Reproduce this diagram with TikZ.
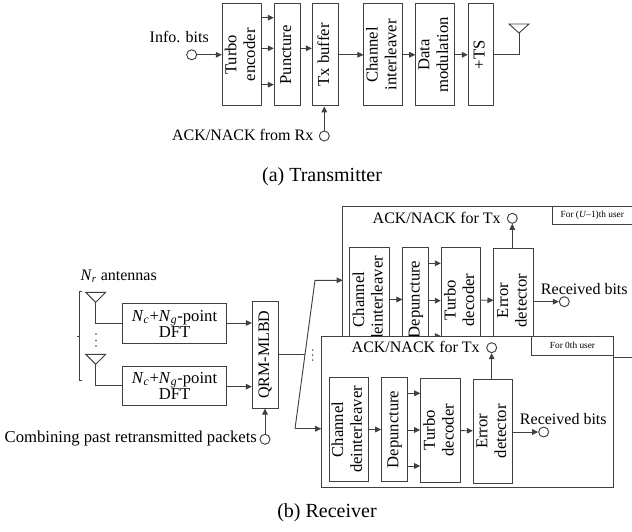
\documentclass[tikz,border=0pt]{standalone}
\usepackage{fontspec}
\usepackage{graphicx}
\usetikzlibrary{arrows.meta}
\setmainfont{Liberation Serif}
\newcommand{\px}{0.75pt}
\newcommand{\vtext}[1]{\rotatebox{90}{\begin{tabular}{@{}c@{}}#1\end{tabular}}}
\newcommand{\Nsub}[1]{\textit{N}\textsubscript{\textit{#1}}}
\tikzset{
    blockbox/.style={draw, rectangle, inner sep=0pt, font=\fontsize{12.5pt}{14pt}\selectfont},
    panelbox/.style={draw, rectangle, fill=white, inner sep=0pt},
    tagbox/.style={draw, rectangle, fill=white, inner sep=0pt, font=\fontsize{7pt}{8pt}\selectfont},
    terminal/.style={draw, circle, fill=white, minimum size=10*\px, inner sep=0pt},
    lbl/.style={inner sep=0pt, font=\fontsize{12pt}{14pt}\selectfont},
    caption/.style={inner sep=0pt, font=\fontsize{15pt}{17pt}\selectfont},
    every node/.append style={text=black},
}
\begin{document}
\begin{tikzpicture}[>={Stealth[length=4.5pt,width=4.2pt,inset=0pt]}, x=\px, y=-\px, line width=0.7pt, color=black!75]
    \useasboundingbox (0,0) rectangle (632,532);

    % Transmitter
    \node[blockbox, minimum width=39.4*\px, minimum height=102.3*\px] (enc) at (242,54.8) {\vtext{Turbo\\encoder}};
    \node[blockbox, minimum width=26.4*\px, minimum height=102.3*\px] (punc) at (287.5,54.8) {\vtext{Puncture}};
    \node[blockbox, minimum width=26.4*\px, minimum height=102.3*\px] (txbuf) at (325.5,54.8) {\vtext{Tx buffer}};
    \node[blockbox, minimum width=38.7*\px, minimum height=102.3*\px] (intl) at (383.3,54.8) {\vtext{Channel\\interleaver}};
    \node[blockbox, minimum width=38.6*\px, minimum height=102.3*\px] (mod) at (435,54.8) {\vtext{Data\\modulation}};
    \node[blockbox, minimum width=25*\px, minimum height=102.3*\px] (ts) at (480.8,54.8) {\vtext{+TS}};
    \node[terminal] (info) at (191.7,54.8) {};
    \node[terminal] (ackin) at (324.3,136) {};
    \coordinate (txant) at (519,33);
    \node[lbl] (infotxt) at (179.3,36.7) {Info. bits};
    \node[lbl] (acktxt) at (242.7,135) {ACK/NACK from Rx};
    \node[caption] (capa) at (322,176.7) {(a) Transmitter};

    \draw[->] (info) -- (enc);
    \draw[->] (enc.east |- 0,17.7) -- (punc.west |- 0,17.7);
    \draw[->] (enc.east |- 0,48.3) -- (punc.west |- 0,48.3);
    \draw[->] (enc.east |- 0,84.7) -- (punc.west |- 0,84.7);
    \draw[->] (punc.east |- 0,48.3) -- (txbuf.west |- 0,48.3);
    \draw[->] (txbuf) -- (intl);
    \draw[->] (intl) -- (mod);
    \draw[->] (mod) -- (ts);
    \draw (ts) -| (txant);
    \draw (txant) -- ++(-10,-9) -- ++(20,0) -- cycle;
    \draw[->] (ackin) -- (ackin |- txbuf.south);

    % Receiver front end
    \coordinate (ant1) at (95.7,302.3);
    \coordinate (ant2) at (95.7,364.3);
    \node[lbl] (nrtxt) at (118.7,276) {\Nsub{r} antennas};
    \node[blockbox, minimum width=104.4*\px, minimum height=39.6*\px, align=center, font=\fontsize{12.5pt}{12pt}\selectfont] (dft1) at (174.5,323.5) {\Nsub{c}+\Nsub{g}-point\\DFT};
    \node[blockbox, minimum width=104.4*\px, minimum height=39*\px, align=center, font=\fontsize{12.5pt}{12pt}\selectfont] (dft2) at (174.5,385.8) {\Nsub{c}+\Nsub{g}-point\\DFT};
    \node[blockbox, minimum width=26*\px, minimum height=106.7*\px, font=\fontsize{12pt}{14pt}\selectfont] (qrm) at (265.3,354.7) {\vtext{QRM-MLBD}};
    \node[terminal] (past) at (265,439.3) {};
    \node[lbl, font=\fontsize{12.5pt}{14pt}\selectfont] (pasttxt) at (130.8,439) {Combining past retransmitted packets};
    \node[caption] (capb) at (327,513) {(b) Receiver};

    \draw (ant1) -- ++(-10,-10) -- ++(20,0) -- cycle;
    \draw (ant2) -- ++(-10,-10) -- ++(20,0) -- cycle;
    \draw (ant1) |- (dft1.west |- 0,323);
    \draw (ant2) |- (dft2.west |- 0,385.7);
    \draw[->] (dft1.east |- 0,323) -- (qrm.west |- 0,323);
    \draw[->] (dft2.east |- 0,386.7) -- (qrm.west |- 0,386.7);
    \draw[->] (past) -- (past |- qrm.south);
    \draw (81.7,291) -- (79,291) -- (79,380.3) -- (81.7,380.3);
    \draw (79,336) -- (77,336);
    \foreach \y in {334,340.5,346}
        \fill (96,\y) circle (0.8);

    % (U-1)th user
    \draw (632,206.7) -- (342.7,206.7) -- (342.7,340) (613,357.3) -- (632,357.3);
    \coordinate (paneltop) at (342.7,280.3);
    \node[tagbox, minimum width=80*\px, minimum height=18*\px] (tagtop) at (592.3,215.7) {For (\textit{U}–1)th user};
    \node[lbl] (acktop) at (436.7,218.3) {ACK/NACK for Tx};
    \node[terminal] (acktopc) at (512.3,218.3) {};
    \node[blockbox, minimum width=39.3*\px, minimum height=104.4*\px] (cdi1) at (369.6,299.5) {\vtext{Channel\\deinterleaver}};
    \node[blockbox, minimum width=25.7*\px, minimum height=104.4*\px] (dep1) at (415.8,299.5) {\vtext{Depuncture}};
    \node[blockbox, minimum width=39.7*\px, minimum height=104.4*\px] (dec1) at (461.1,300) {\vtext{Turbo\\decoder}};
    \node[blockbox, minimum width=39.3*\px, minimum height=104.4*\px] (err1) at (513.6,300.5) {\vtext{Error\\detector}};
    \node[terminal] (rx1) at (564.3,301.7) {};
    \node[lbl] (rx1txt) at (584.3,289) {Received bits};

    \draw[->] (cdi1) -- (dep1);
    \draw[->] (dep1.east |- 0,263.3) -- (dec1.west |- 0,263.3);
    \draw[->] (dep1.east |- 0,300.7) -- (dec1.west |- 0,300.7);
    \draw[->] (dep1.east |- 0,336) -- (dec1.west |- 0,336);
    \draw[->] (dec1) -- (err1);
    \draw[->] (err1.east |- rx1) -- (rx1);
    \draw[->] (acktopc |- err1.north) -- (acktopc);

    % 0th user
    \node[panelbox, minimum width=291.6*\px, minimum height=150.7*\px] (panel0) at (467.5,411.7) {};
    \node[tagbox, minimum width=81.6*\px, minimum height=18.7*\px] (tag0) at (572.5,345.7) {For 0th user};
    \node[lbl] (ack0) at (415.7,346.7) {ACK/NACK for Tx};
    \node[terminal] (ack0c) at (491.7,347.7) {};
    \node[blockbox, minimum width=38.7*\px, minimum height=104.4*\px] (cdi0) at (348.7,429.5) {\vtext{Channel\\deinterleaver}};
    \node[blockbox, minimum width=26*\px, minimum height=104.4*\px] (dep0) at (394.7,429.5) {\vtext{Depuncture}};
    \node[blockbox, minimum width=39.6*\px, minimum height=104*\px] (dec0) at (440.5,430.3) {\vtext{Turbo\\decoder}};
    \node[blockbox, minimum width=39.4*\px, minimum height=103.7*\px] (err0) at (493,431.2) {\vtext{Error\\detector}};
    \node[terminal] (rx0) at (543.7,432) {};
    \node[lbl] (rx0txt) at (563.3,419) {Received bits};

    \draw[->] (cdi0) -- (dep0);
    \draw[->] (dep0.east |- 0,393.3) -- (dec0.west |- 0,393.3);
    \draw[->] (dep0.east |- 0,430) -- (dec0.west |- 0,430);
    \draw[->] (dep0.east |- 0,466) -- (dec0.west |- 0,466);
    \draw[->] (dec0) -- (err0);
    \draw[->] (err0.east |- rx0) -- (rx0);
    \draw[->] (ack0c |- err0.north) -- (ack0c);

    % fork to the users
    \coordinate (forktop) at (315,280.3);
    \coordinate (forkbot) at (295,428.7);
    \coordinate (forkmid) at (305,354.7);
    \draw (qrm) -- (forkmid);
    \draw[->] (forkbot) -- (forktop) -- (paneltop);
    \draw[<-] (panel0.west |- forkbot) -- (forkbot);
    \foreach \y in {350,355,360}
        \fill (312.7,\y) circle (0.8);
\end{tikzpicture}
\end{document}
